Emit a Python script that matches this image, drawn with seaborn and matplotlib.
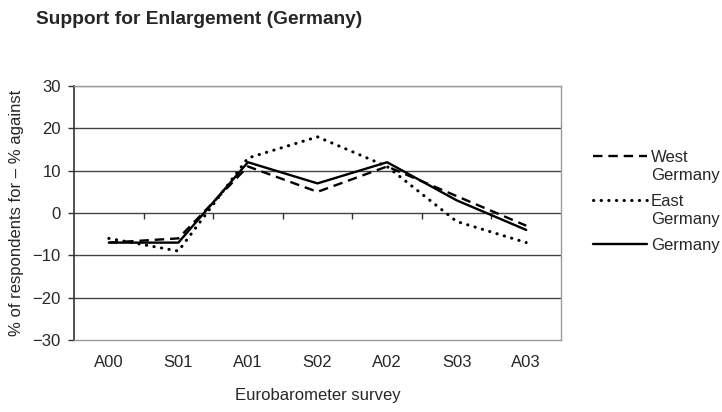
import pandas as pd
import seaborn as sns
import matplotlib.pyplot as plt
from matplotlib.legend_handler import HandlerLine2D

surveys = ["A00", "S01", "A01", "S02", "A02", "S03", "A03"]
west = [-7, -6, 11, 5, 11, 4, -3]
east = [-6, -9, 13, 18, 11, -2, -7]
germany = [-7, -7, 12, 7, 12, 3, -4]
series_names = ["West\nGermany", "East\nGermany", "Germany"]
yticks = [-30, -20, -10, 0, 10, 20, 30]


class FirstLineHandler(HandlerLine2D):
    # put the legend line next to the first line of a two-line label
    def __init__(self, shift=0.0, **kw):
        super().__init__(**kw)
        self.shift = shift

    def create_artists(self, legend, orig_handle, xdescent, ydescent,
                       width, height, fontsize, trans):
        return super().create_artists(legend, orig_handle, xdescent,
                                      ydescent - 2 * self.shift * fontsize,
                                      width, height, fontsize, trans)


sns.set_style("white")
plt.rcParams['font.family'] = ['Liberation Sans', 'DejaVu Sans']
fs = 12

fig = plt.figure(figsize=(7.22, 4.12), dpi=100)
ax = fig.add_axes([0.1025, 0.175, 0.6745, 0.616])

styles = [dict(dashes=(4, 2.5), dash_capstyle="butt", linewidth=1.7),
          dict(dashes=(0.1, 2.4), dash_capstyle="round", linewidth=2.2),
          dict(linewidth=1.7)]
for name, vals, st in zip(series_names, [west, east, germany], styles):
    df = pd.DataFrame({"survey": surveys, "value": vals})
    sns.lineplot(data=df, x="survey", y="value", ax=ax, color="black",
                 label=name, sort=False, **st)

ax.set_xlim(-0.5, len(surveys) - 0.5)
ax.set_ylim(yticks[0], yticks[-1])
ax.set_yticks(yticks)
ax.set_yticklabels(["\u2212" + str(-v) if v < 0 else str(v) for v in yticks])
for v in yticks[1:-1]:
    ax.axhline(v, color="#444444", linewidth=1.0, zorder=0)
ax.axhline(yticks[-1], color="#999999", linewidth=1.0, zorder=0)

for side in ["top", "right", "bottom"]:
    ax.spines[side].set_color("#999999")
    ax.spines[side].set_linewidth(1.0)
ax.spines["left"].set_color("#333333")
ax.spines["left"].set_linewidth(1.2)

ax.tick_params(axis="y", direction="out", length=4.5, width=1, color="#333333",
               labelsize=fs, pad=5, left=True)
ax.tick_params(axis="x", length=0, labelsize=fs, pad=11)

# category boundary ticks hanging below the zero line
bounds = [i + 0.5 for i in range(len(surveys) - 1)]
ax.vlines(bounds, 0.478, 0.5, transform=ax.get_xaxis_transform(),
          color="#333333", linewidth=1.0, zorder=1)

ax.set_xlabel("Eurobarometer survey", fontsize=fs, labelpad=13)
ax.set_ylabel("% of respondents for \u2013 % against", fontsize=fs, labelpad=6)

fig.text(0.05, 0.953, "Support for Enlargement (Germany)", fontsize=13.8,
         fontweight="bold", va="center")

handles, labels = ax.get_legend_handles_labels()
hmap = {handles[0]: FirstLineHandler(0.62), handles[1]: FirstLineHandler(0.62)}
leg = ax.legend(handles, labels, handler_map=hmap, loc="upper left",
                bbox_to_anchor=(0.821, 0.636), bbox_transform=fig.transFigure,
                frameon=False, fontsize=fs, borderpad=0, borderaxespad=0,
                handlelength=3.25, handletextpad=0.25, labelspacing=0.65)
for t in leg.get_texts():
    t.set_linespacing(1.25)

plt.savefig("out.png", dpi=100)
